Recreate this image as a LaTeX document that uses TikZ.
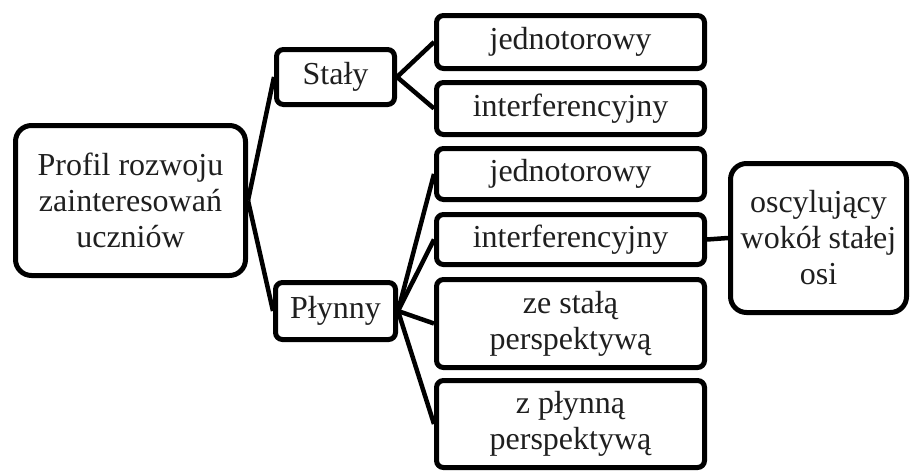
\documentclass[tikz,border=0pt]{standalone}
\usepackage{fontspec}
\setmainfont{Liberation Serif}

\begin{document}
\begin{tikzpicture}[x=1pt,y=-1pt,
  every node/.style={font=\fontsize{32}{36}\selectfont,align=center,inner sep=0pt,text=black!88},
  box/.style={draw,line width=5pt,rounded corners=7pt,minimum width=268pt},
  bigbox/.style={draw,line width=5pt,rounded corners=16pt},
  link/.style={line width=4.5pt}]
\useasboundingbox[fill=white] (0,0) rectangle (912,471);

% nodes
\node (root) [bigbox,minimum width=230pt,minimum height=150pt] at (130.5,200.5) {Profil rozwoju\\zainteresowań\\uczniów};
\node (staly) [box,minimum width=118pt,minimum height=55pt] at (335.5,77) {Stały};
\node (plynny) [box,minimum width=120pt,minimum height=57pt] at (335.5,311) {Płynny};
\node (s1) [box,minimum height=53pt] at (570.5,42) {jednotorowy};
\node (s2) [box,minimum height=52pt] at (570.5,108.5) {interferencyjny};
\node (p1) [box,minimum height=51pt] at (570.5,174) {jednotorowy};
\node (p2) [box,minimum height=50pt] at (570.5,239.5) {interferencyjny};
\node (p3) [box,minimum height=88pt] at (570.5,323.5) {ze stałą\\perspektywą};
\node (p4) [box,minimum height=87pt] at (570.5,424) {z płynną\\perspektywą};
\node (osc) [bigbox,minimum width=176pt,minimum height=149pt] at (818.5,238) {oscylujący\\wokół stałej\\osi};

% lines
\draw[link] (root.east) -- (staly.west);
\draw[link] (root.east) -- (plynny.west);
\draw[link] (staly.east) -- (s1.west);
\draw[link] (staly.east) -- (s2.west);
\draw[link] (plynny.east) -- (p1.west);
\draw[link] (plynny.east) -- (p2.west);
\draw[link] (plynny.east) -- (p3.west);
\draw[link] (plynny.east) -- (p4.west);
\draw[link] (p2.east) -- (osc.west);
\end{tikzpicture}
\end{document}
